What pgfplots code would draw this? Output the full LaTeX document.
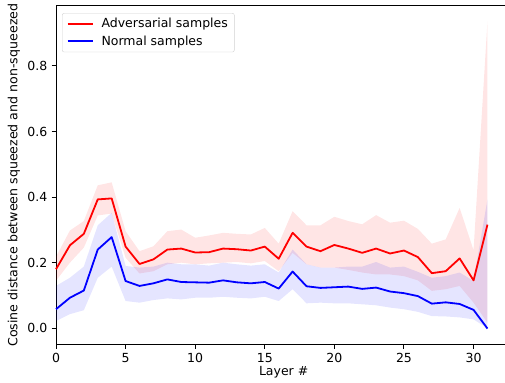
\documentclass[border=0pt]{standalone}
\usepackage{fontspec}
\setmainfont{DejaVu Sans}
\usepackage{pgfplots}
\pgfplotsset{compat=1.18}
\usepackage{pgfplotstable}
\usepgfplotslibrary{fillbetween}

\pgfplotstableread{
x r rlo rhi b blo bhi
0 0.180 0.145 0.218 0.058 0.022 0.129
1 0.253 0.200 0.298 0.093 0.043 0.154
2 0.288 0.246 0.327 0.115 0.055 0.188
3 0.393 0.344 0.436 0.240 0.154 0.314
4 0.396 0.350 0.445 0.278 0.188 0.352
5 0.249 0.215 0.296 0.144 0.083 0.190
6 0.196 0.167 0.235 0.129 0.078 0.185
7 0.210 0.174 0.250 0.137 0.086 0.188
8 0.240 0.195 0.296 0.149 0.091 0.200
9 0.243 0.200 0.301 0.141 0.088 0.195
10 0.231 0.195 0.276 0.140 0.093 0.195
11 0.232 0.198 0.283 0.139 0.093 0.191
12 0.243 0.200 0.291 0.146 0.096 0.200
13 0.241 0.202 0.288 0.140 0.093 0.195
14 0.237 0.198 0.286 0.137 0.091 0.191
15 0.249 0.205 0.306 0.141 0.096 0.195
16 0.212 0.174 0.258 0.121 0.083 0.170
17 0.291 0.230 0.357 0.173 0.119 0.240
18 0.249 0.195 0.314 0.128 0.076 0.195
19 0.235 0.185 0.314 0.123 0.078 0.185
20 0.254 0.185 0.340 0.125 0.076 0.185
21 0.243 0.178 0.327 0.127 0.076 0.188
22 0.230 0.170 0.317 0.120 0.073 0.188
23 0.243 0.164 0.345 0.124 0.070 0.202
24 0.228 0.164 0.322 0.112 0.063 0.185
25 0.237 0.159 0.328 0.107 0.058 0.188
26 0.217 0.146 0.303 0.098 0.050 0.172
27 0.168 0.114 0.258 0.075 0.037 0.154
28 0.174 0.119 0.271 0.079 0.036 0.159
29 0.213 0.129 0.367 0.074 0.033 0.170
30 0.146 0.078 0.238 0.056 0.027 0.144
31 0.316 0.017 0.936 -0.001 0.000 0.393
}\datatable

\begin{document}
\fontsize{12.5pt}{15pt}\selectfont
\begin{tikzpicture}
\begin{axis}[
  scale only axis,
  width=449pt, height=338.3pt,
  xmin=0, xmax=32.26,
  ymin=-0.049, ymax=0.983,
  axis x line*=box, axis y line*=left,
  xtick pos=left, ytick pos=left,
  tick align=outside,
  major tick length=4.4pt,
  axis line style={line width=1pt},
  every tick/.style={black, line width=1pt},
  xtick={0,5,10,15,20,25,30},
  ytick={0,0.2,0.4,0.6,0.8},
  /pgf/number format/assume math mode=true,
  yticklabel style={/pgf/number format/.cd, fixed, fixed zerofill, precision=1},
  ticklabel style={font=\fontsize{12.5pt}{15pt}\selectfont},
  xlabel={Layer \#},
  ylabel={Cosine distance between squeezed and non-squeezed},
  every axis x label/.style={at={(axis description cs:0.507,0)}, anchor=center, yshift=-28pt, font=\fontsize{12.5pt}{15pt}\selectfont},
  every axis y label/.style={at={(axis description cs:-0.0935,0.5)}, rotate=90, anchor=center, font=\fontsize{12.6pt}{15pt}\selectfont},
  legend style={at={(axis description cs:0.0134,0.979)}, anchor=north west,
    draw=black!18, rounded corners=2pt, fill=white, fill opacity=0.8, text opacity=1,
    font=\fontsize{12.5pt}{15pt}\selectfont, row sep=2pt, inner xsep=4.5pt, inner ysep=3pt,
    /tikz/every odd column/.append style={column sep=6pt}},
  legend cell align=left,
  clip=false,
]
\addplot[name path=rhi, draw=none, forget plot] table[x=x, y=rhi] {\datatable};
\addplot[name path=rlo, draw=none, forget plot] table[x=x, y=rlo] {\datatable};
\addplot[fill=red, fill opacity=0.1, draw=none, forget plot] fill between[of=rhi and rlo];
\addplot[name path=bhi, draw=none, forget plot] table[x=x, y=bhi] {\datatable};
\addplot[name path=blo, draw=none, forget plot] table[x=x, y=blo] {\datatable};
\addplot[fill=blue, fill opacity=0.1, draw=none, forget plot] fill between[of=bhi and blo];
\addplot[red, line width=1.8pt, line join=round,
  legend image code/.code={\draw[red, line width=1.8pt] (0pt,0pt) -- (25pt,0pt);}] table[x=x, y=r] {\datatable};
\addlegendentry{Adversarial samples}
\addplot[blue, line width=1.8pt, line join=round,
  legend image code/.code={\draw[blue, line width=1.8pt] (0pt,0pt) -- (25pt,0pt);}] table[x=x, y=b] {\datatable};
\addlegendentry{Normal samples}
\coordinate (bl) at (rel axis cs:0,0);
\coordinate (tr) at (rel axis cs:1,1);
\end{axis}
\pgfresetboundingbox
\useasboundingbox ([shift={(-56pt,-38.7pt)}]bl) rectangle ([shift={(0pt,6pt)}]tr);
\end{tikzpicture}
\end{document}
